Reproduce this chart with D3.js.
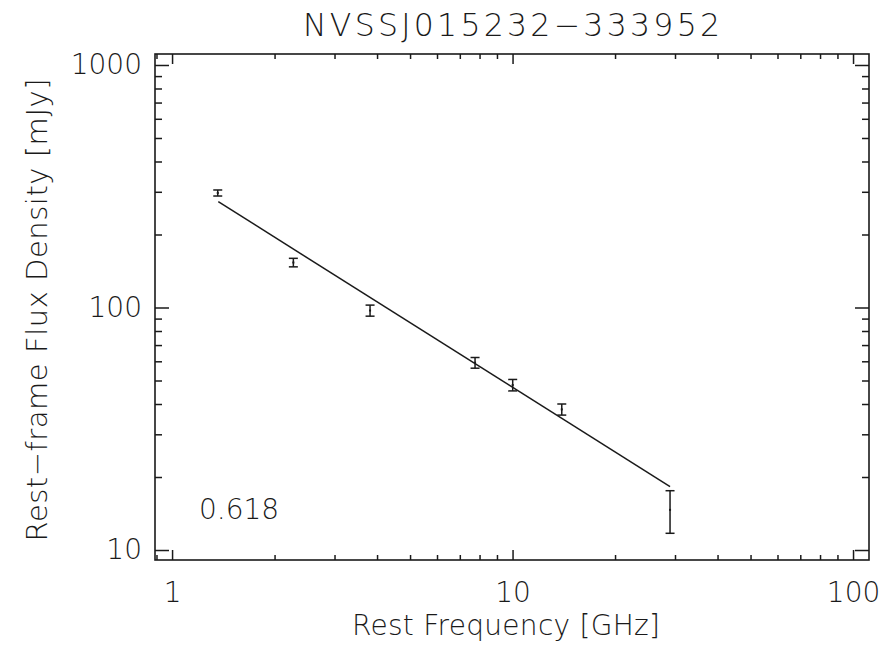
<!DOCTYPE html>
<html>
<head>
<meta charset="utf-8">
<script src="https://cdn.jsdelivr.net/npm/d3@7"></script>
<style>
  body { margin: 0; background: #ffffff; }
  text { font-family: "DejaVu Sans", sans-serif; font-weight: 200; fill: #1a1a1a; }
</style>
</head>
<body>
<svg id="chart" width="889" height="646"></svg>
<script>
// Radio spectrum of one source: rest-frame flux density vs rest frequency
const sourceName = "NVSSJ015232\u2212333952";
const freqGHz = [1.362, 2.271, 3.815, 7.76, 10.01, 13.95, 29.01];
const fluxMJy = [296.7, 153.3, 97.2, 59.2, 47.9, 38.0, 14.64];
const fluxErr = [8.5, 6.2, 5.1, 3.0, 2.6, 2.0, 2.92];
// Power-law fit, end points
const fitFreq = [1.367, 29.01];
const fitFlux = [273.1, 18.24];
const xTickValues = [1, 10, 100];
const xTickLabels = ["1", "10", "100"];
const yTickValues = [10, 100, 1000];
const yTickLabels = ["10", "100", "1000"];
const annotation = "0.618";
const xTitle = "Rest Frequency [GHz]";
const yTitle = "Rest\u2212frame Flux Density [mJy]";

const svg = d3.select("#chart");
const plotL = 155, plotR = 869, plotT = 54, plotB = 560;

const x = d3.scaleLog().domain([0.891, 111.4]).range([plotL, plotR]);
const y = d3.scaleLog().domain([9.095, 1110]).range([plotB, plotT]);

// Minor tick positions (2..9 within each decade, inside the domain)
function minorTicks(scale) {
  const [d0, d1] = scale.domain();
  const out = [];
  for (let e = Math.floor(Math.log10(d0)) - 1; e <= Math.ceil(Math.log10(d1)); e++) {
    for (let m = 2; m <= 9; m++) {
      const v = m * Math.pow(10, e);
      if (v > d0 && v < d1) out.push(v);
    }
  }
  return out;
}
const xMinor = minorTicks(x);
const yMinor = minorTicks(y);

const ink = "#1a1a1a";
function styleAxis(g) {
  g.select(".domain").remove();
  g.selectAll(".tick line").attr("stroke", ink).attr("stroke-width", 1.5);
  g.selectAll(".tick text").attr("font-family", "DejaVu Sans, sans-serif")
    .attr("font-size", 28).attr("fill", ink);
}

// Bottom axis: major with labels, minor without
svg.append("g").attr("transform", `translate(0,${plotB})`)
  .call(d3.axisBottom(x).tickValues(xTickValues).tickSize(-10).tickPadding(22)
    .tickFormat((d, i) => xTickLabels[i]))
  .call(styleAxis);
svg.append("g").attr("transform", `translate(0,${plotB})`)
  .call(d3.axisBottom(x).tickValues(xMinor).tickSize(-5).tickFormat(""))
  .call(styleAxis);
// Top axis (ticks only)
svg.append("g").attr("transform", `translate(0,${plotT})`)
  .call(d3.axisTop(x).tickValues(xTickValues).tickSize(-10).tickFormat(""))
  .call(styleAxis);
svg.append("g").attr("transform", `translate(0,${plotT})`)
  .call(d3.axisTop(x).tickValues(xMinor).tickSize(-5).tickFormat(""))
  .call(styleAxis);
// Left axis
svg.append("g").attr("transform", `translate(${plotL},0)`)
  .call(d3.axisLeft(y).tickValues(yTickValues).tickSize(-14).tickPadding(13)
    .tickFormat((d, i) => yTickLabels[i]))
  .call(styleAxis);
svg.append("g").attr("transform", `translate(${plotL},0)`)
  .call(d3.axisLeft(y).tickValues(yMinor).tickSize(-7).tickFormat(""))
  .call(styleAxis);
// Right axis (ticks only)
svg.append("g").attr("transform", `translate(${plotR},0)`)
  .call(d3.axisRight(y).tickValues(yTickValues).tickSize(-14).tickFormat(""))
  .call(styleAxis);
svg.append("g").attr("transform", `translate(${plotR},0)`)
  .call(d3.axisRight(y).tickValues(yMinor).tickSize(-7).tickFormat(""))
  .call(styleAxis);

// Plot frame
svg.append("rect")
  .attr("x", plotL).attr("y", plotT)
  .attr("width", plotR - plotL).attr("height", plotB - plotT)
  .attr("fill", "none").attr("stroke", ink).attr("stroke-width", 1.6);

// Fit line
const line = d3.line().x(d => x(d[0])).y(d => y(d[1]));
svg.append("path")
  .datum(fitFreq.map((f, i) => [f, fitFlux[i]]))
  .attr("d", line)
  .attr("fill", "none").attr("stroke", ink).attr("stroke-width", 1.5);

// Error bars
const pts = freqGHz.map((f, i) => ({ f, s: fluxMJy[i], e: fluxErr[i] }));
const cap = 4.5;
const eb = svg.append("g").attr("stroke", ink).attr("stroke-width", 1.5);
eb.selectAll("line.v").data(pts).join("line").attr("class", "v")
  .attr("x1", d => x(d.f)).attr("x2", d => x(d.f))
  .attr("y1", d => y(d.s - d.e)).attr("y2", d => y(d.s + d.e));
eb.selectAll("line.hi").data(pts).join("line").attr("class", "hi")
  .attr("x1", d => x(d.f) - cap).attr("x2", d => x(d.f) + cap)
  .attr("y1", d => y(d.s + d.e)).attr("y2", d => y(d.s + d.e));
eb.selectAll("line.lo").data(pts).join("line").attr("class", "lo")
  .attr("x1", d => x(d.f) - cap).attr("x2", d => x(d.f) + cap)
  .attr("y1", d => y(d.s - d.e)).attr("y2", d => y(d.s - d.e));
// Data points (small dots)
svg.append("g").selectAll("rect").data(pts).join("rect")
  .attr("x", d => x(d.f) - 1).attr("y", d => y(d.s) - 1)
  .attr("width", 2).attr("height", 2).attr("fill", ink);

// Titles
svg.append("text")
  .attr("x", 511.5).attr("y", 36)
  .attr("text-anchor", "middle").attr("font-size", 31.5)
  .attr("textLength", 417).attr("lengthAdjust", "spacing")
  .text(sourceName);

svg.append("text")
  .attr("x", 506).attr("y", 635)
  .attr("text-anchor", "middle").attr("font-size", 28)
  .attr("textLength", 308).attr("lengthAdjust", "spacing")
  .text(xTitle);

svg.append("text")
  .attr("transform", "translate(47,310) rotate(-90)")
  .attr("text-anchor", "middle").attr("font-size", 29)
  .attr("textLength", 463).attr("lengthAdjust", "spacing")
  .text(yTitle);

svg.append("text")
  .attr("x", 199).attr("y", 519.3)
  .attr("font-size", 28)
  .text(annotation);
</script>
</body>
</html>
